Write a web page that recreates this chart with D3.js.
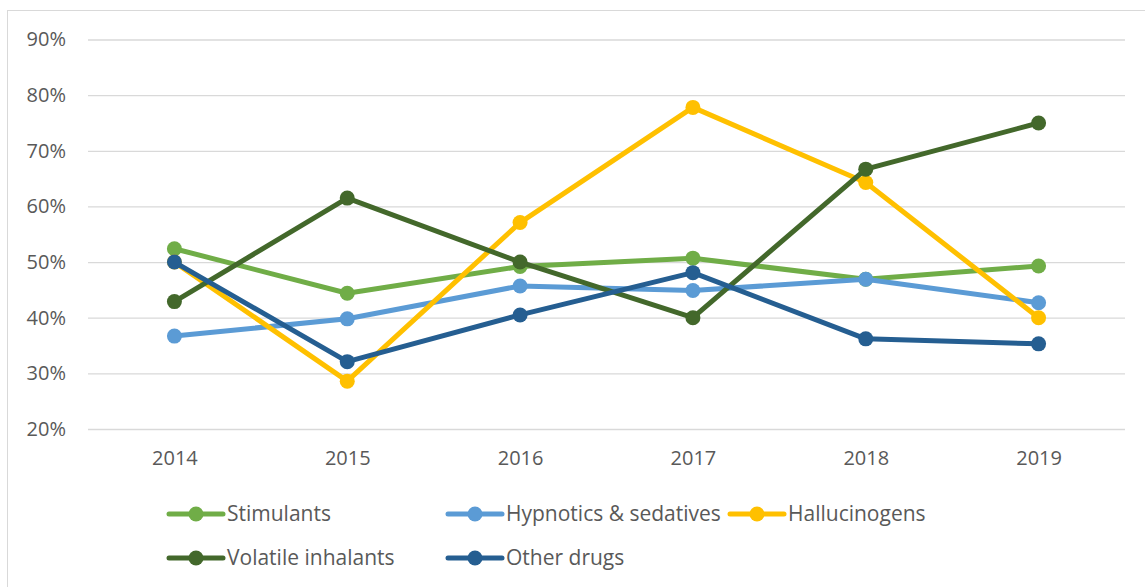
<!DOCTYPE html>
<html><head><meta charset="utf-8">
<script src="https://cdn.jsdelivr.net/npm/d3@7"></script>
<style>html,body{margin:0;padding:0;background:#fff;}svg{display:block;}</style>
</head><body>
<svg id="c" width="1145" height="587"></svg>
<script>
const years = ["2014","2015","2016","2017","2018","2019"];
const seriesNames = ["Stimulants","Hypnotics & sedatives","Hallucinogens","Volatile inhalants","Other drugs"];
const seriesColors = ["#70AD47","#5B9BD5","#FFC000","#43682B","#255E91"];
const stimulants = [52.4, 44.4, 49.2, 50.7, 46.9, 49.3];
const hypnotics = [36.7, 39.8, 45.7, 44.9, 46.9, 42.7];
const hallucinogens = [50.0, 28.6, 57.1, 77.8, 64.3, 40.0];
const volatile = [42.9, 61.5, 50.0, 40.0, 66.7, 75.0];
const other = [50.0, 32.1, 40.5, 48.1, 36.2, 35.3];
const yTicks = [20, 30, 40, 50, 60, 70, 80, 90];
const allSeries = [stimulants, hypnotics, hallucinogens, volatile, other];

const svg = d3.select("#c");
const font = "'Open Sans', sans-serif";
const textColor = "#595959";

svg.append("rect").attr("x",7.5).attr("y",10.5).attr("width",1150).attr("height",600)
  .attr("fill","#fff").attr("stroke","#d9d9d9").attr("stroke-width",1);

const x = d3.scalePoint().domain(years).range([88,1125]).padding(0.5);
const y = d3.scaleLinear().domain([20,90]).range([429,39.5]);

const yAxis = d3.axisLeft(y).tickValues(yTicks).tickFormat(d=>d+"%").tickSize(-(1125-88)).tickPadding(22);
const gy = svg.append("g").attr("transform","translate(88,0)").call(yAxis);
gy.select(".domain").remove();
gy.selectAll(".tick line").attr("stroke","#d9d9d9").attr("stroke-width",1.3);
gy.selectAll(".tick text").attr("fill",textColor).style("font-family",font).style("font-size","20px");

const xAxis = d3.axisBottom(x).tickSize(0).tickPadding(22);
const gx = svg.append("g").attr("transform","translate(0,429)").call(xAxis);
gx.select(".domain").remove();
gx.selectAll(".tick text").attr("fill",textColor).style("font-family",font).style("font-size","20px");

const line = d3.line().x((d,i)=>x(years[i])).y(d=>y(d));
allSeries.forEach((s,k)=>{
  const g = svg.append("g");
  g.append("path").datum(s).attr("d",line).attr("fill","none")
    .attr("stroke",seriesColors[k]).attr("stroke-width",5).attr("stroke-linejoin","round").attr("stroke-linecap","round");
  g.selectAll("circle").data(s).join("circle")
    .attr("cx",(d,i)=>x(years[i])).attr("cy",d=>y(d)).attr("r",7.5).attr("fill",seriesColors[k]);
});

const legendPos = [[196,514],[475,514],[757,514],[196,558],[475,558]];
seriesNames.forEach((n,k)=>{
  const [cx,cy] = legendPos[k];
  const g = svg.append("g");
  g.append("line").attr("x1",cx-27).attr("x2",cx+27).attr("y1",cy).attr("y2",cy)
    .attr("stroke",seriesColors[k]).attr("stroke-width",5).attr("stroke-linecap","round");
  g.append("circle").attr("cx",cx).attr("cy",cy).attr("r",7.5).attr("fill",seriesColors[k]);
  g.append("text").attr("x",cx+31).attr("y",cy).attr("dy","0.35em").text(n)
    .attr("fill",textColor).style("font-family",font).style("font-size","21px");
});
</script>
</body></html>
